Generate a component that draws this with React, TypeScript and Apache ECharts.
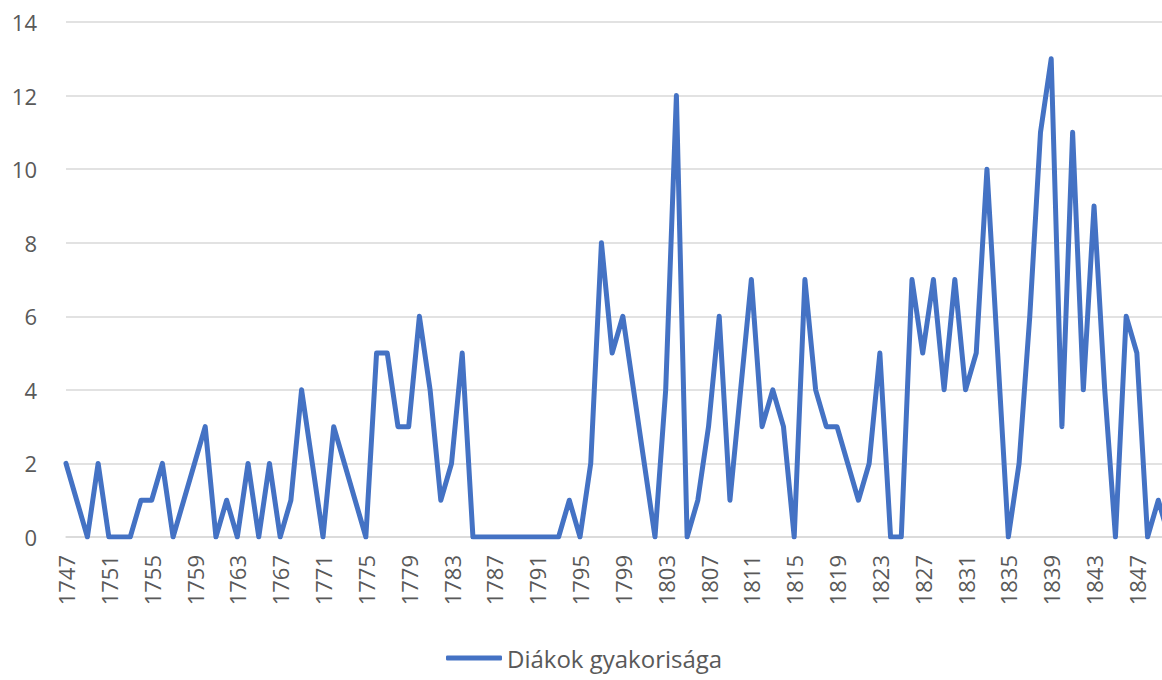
import React, { useEffect, useRef } from "react";
import * as echarts from "echarts";

const years: string[] = [
  "1747","1748","1749","1750","1751","1752","1753","1754","1755","1756",
  "1757","1758","1759","1760","1761","1762","1763","1764","1765","1766",
  "1767","1768","1769","1770","1771","1772","1773","1774","1775","1776",
  "1777","1778","1779","1780","1781","1782","1783","1784","1785","1786",
  "1787","1788","1789","1790","1791","1792","1793","1794","1795","1796",
  "1797","1798","1799","1800","1801","1802","1803","1804","1805","1806",
  "1807","1808","1809","1810","1811","1812","1813","1814","1815","1816",
  "1817","1818","1819","1820","1821","1822","1823","1824","1825","1826",
  "1827","1828","1829","1830","1831","1832","1833","1834","1835","1836",
  "1837","1838","1839","1840","1841","1842","1843","1844","1845","1846",
  "1847","1848","1849","1850",
];

const studentFrequency: number[] = [
  2, 1, 0, 2, 0, 0, 0, 1, 1, 2,
  0, 1, 2, 3, 0, 1, 0, 2, 0, 2,
  0, 1, 4, 2, 0, 3, 2, 1, 0, 5,
  5, 3, 3, 6, 4, 1, 2, 5, 0, 0,
  0, 0, 0, 0, 0, 0, 0, 1, 0, 2,
  8, 5, 6, 4, 2, 0, 4, 12, 0, 1,
  3, 6, 1, 4, 7, 3, 4, 3, 0, 7,
  4, 3, 3, 2, 1, 2, 5, 0, 0, 7,
  5, 7, 4, 7, 4, 5, 10, 5, 0, 2,
  6, 11, 13, 3, 11, 4, 9, 4, 0, 6,
  5, 0, 1, 0,
];

const seriesName = "Diákok gyakorisága";

export default function App() {
  const ref = useRef<HTMLDivElement>(null);
  useEffect(() => {
    if (!ref.current) return;
    const chart = echarts.init(ref.current, undefined, { renderer: "svg" });
    const font = "'Open Sans', 'Noto Sans', sans-serif";
    chart.setOption({
      animation: false,
      textStyle: { fontFamily: font },
      grid: { left: 66, right: 0, top: 22, bottom: 143, containLabel: false },
      legend: {
        data: [{ name: seriesName, icon: "roundRect" }],
        left: 446,
        top: 646,
        padding: 0,
        itemWidth: 56,
        itemHeight: 5,
        itemGap: 6,
        itemStyle: { color: "#4472C4" },
        textStyle: { fontSize: 24, color: "#595959", fontFamily: font },
      },
      xAxis: {
        type: "category",
        data: years,
        boundaryGap: false,
        axisLine: { show: true, lineStyle: { color: "#D9D9D9", width: 1.5 } },
        axisTick: { show: false },
        axisLabel: {
          rotate: 90,
          interval: 3,
          margin: 18,
          fontSize: 22,
          color: "#595959",
          fontFamily: font,
        },
        splitLine: { show: false },
      },
      yAxis: {
        type: "value",
        min: 0,
        max: 14,
        interval: 2,
        axisLine: { show: false },
        axisTick: { show: false },
        axisLabel: { margin: 29, fontSize: 22, color: "#595959", fontFamily: font },
        splitLine: { show: true, lineStyle: { color: "#D9D9D9", width: 1.5 } },
      },
      series: [
        {
          name: seriesName,
          type: "line",
          data: studentFrequency,
          symbol: "none",
          lineStyle: { color: "#4472C4", width: 5, cap: "round", join: "round" },
          itemStyle: { color: "#4472C4" },
        },
      ],
    });
    return () => chart.dispose();
  }, []);
  return (
    <div
      style={{ position: "absolute", left: 0, top: 0, width: 1162, height: 680, overflow: "hidden", background: "#fff" }}
    >
      <div ref={ref} style={{ width: 1169, height: 680 }} />
    </div>
  );
}
